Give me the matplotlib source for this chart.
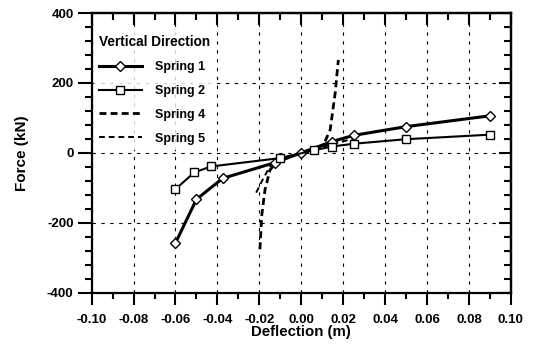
import numpy as np
from matplotlib import pyplot as plt
from matplotlib.ticker import MultipleLocator, FormatStrFormatter

plt.rcParams['font.family'] = ['Liberation Sans', 'DejaVu Sans']
plt.rcParams['font.weight'] = 'bold'
plt.rcParams['axes.unicode_minus'] = False

# values
spring1_x = [-0.060, -0.050, -0.0375, -0.0125, 0.0, 0.0145, 0.025, 0.050, 0.090]
spring1_y = [-258, -133, -73, -28, 0, 32, 50, 75, 106]

spring2_x = [-0.060, -0.051, -0.043, -0.010, 0.006, 0.0145, 0.025, 0.050, 0.090]
spring2_y = [-104, -56, -39, -15, 7, 18, 26, 39, 52]

spring4_x = [-0.0197, -0.0189, -0.0173, -0.0149, -0.012, -0.006, 0.0, 0.006,
             0.0106, 0.0138, 0.0162, 0.0177]
spring4_y = [-276, -182, -106, -49, -28, -11, 0, 10, 22, 66, 171, 266]

spring5_x = [-0.0215, -0.018, -0.014, -0.008, 0.0, 0.008, 0.016, 0.026]
spring5_y = [-114, -72, -29, -13, 0, 13, 27, 42]

x_ticks = [-0.10, -0.08, -0.06, -0.04, -0.02, 0.00, 0.02, 0.04, 0.06, 0.08, 0.10]
y_ticks = [-400, -200, 0, 200, 400]

fig = plt.figure(figsize=(5.36, 3.45), dpi=100)
ax = fig.add_axes([0.171, 0.152, 0.782, 0.810])

ax.plot(spring1_x, spring1_y, '-', color='black', lw=2.2, marker='D', ms=5.5,
        mfc='white', mec='black', mew=1.0, label='Spring 1', zorder=4)
ax.plot(spring2_x, spring2_y, '-', color='black', lw=1.5, marker='s', ms=5.5,
        mfc='white', mec='black', mew=1.0, label='Spring 2', zorder=4)
ax.plot(spring4_x, spring4_y, color='black', lw=2.0, ls=(0, (2.5, 1.5)),
        label='Spring 4', zorder=3)
ax.plot(spring5_x, spring5_y, color='black', lw=1.4, ls=(0, (3, 2)),
        label='Spring 5', zorder=3)

ax.set_xlim(-0.10, 0.10)
ax.set_ylim(-400, 400)
ax.set_xticks(x_ticks)
ax.set_yticks(y_ticks)
ax.xaxis.set_major_formatter(FormatStrFormatter('%.2f'))
ax.xaxis.set_minor_locator(MultipleLocator(0.01))
ax.yaxis.set_minor_locator(MultipleLocator(40))

ax.grid(True, which='major', color='black', ls=(0, (3, 5)), lw=0.8)
ax.set_axisbelow(True)

for s in ax.spines.values():
    s.set_linewidth(1.6)

ax.tick_params(which='both', direction='out', bottom=True, left=True,
               top=False, right=False, width=1.5, labelsize=9.5)
ax.tick_params(axis='x', which='major', length=8.5, pad=7)
ax.tick_params(axis='x', which='minor', length=4)
ax.tick_params(axis='y', which='major', length=10, pad=3)
ax.tick_params(axis='y', which='minor', length=5)

# inward ticks on top and right
ax_top = ax.secondary_xaxis('top')
ax_top.set_xticks(x_ticks)
ax_top.xaxis.set_minor_locator(MultipleLocator(0.01))
ax_top.tick_params(which='both', direction='in', width=1.5, labeltop=False)
ax_top.tick_params(which='major', length=8.5)
ax_top.tick_params(which='minor', length=5)
ax_top.spines['top'].set_linewidth(1.6)

ax_right = ax.secondary_yaxis('right')
ax_right.set_yticks(y_ticks)
ax_right.yaxis.set_minor_locator(MultipleLocator(40))
ax_right.tick_params(which='both', direction='in', width=1.5, labelright=False)
ax_right.tick_params(which='major', length=8.5)
ax_right.tick_params(which='minor', length=5)
ax_right.spines['right'].set_linewidth(1.6)

for lab in ax.get_xticklabels() + ax.get_yticklabels():
    lab.set_fontweight('bold')

ax.set_xlabel('Deflection (m)', fontsize=10.8, fontweight='bold', labelpad=-1)
ax.set_ylabel('Force (kN)', fontsize=11, fontweight='bold', labelpad=13)

leg = ax.legend(loc='upper left', bbox_to_anchor=(0.0, 0.948),
                title='Vertical Direction', frameon=True,
                fontsize=9, title_fontproperties={'weight': 'bold', 'size': 9.8},
                handlelength=3.4, handletextpad=1.1, labelspacing=0.95,
                borderaxespad=0.2, borderpad=0.4)
leg.get_frame().set_edgecolor('none')
leg.get_frame().set_facecolor('white')
leg._legend_box.align = 'left'
for t in leg.get_texts():
    t.set_fontweight('bold')

fig.savefig('out.png', dpi=100)
